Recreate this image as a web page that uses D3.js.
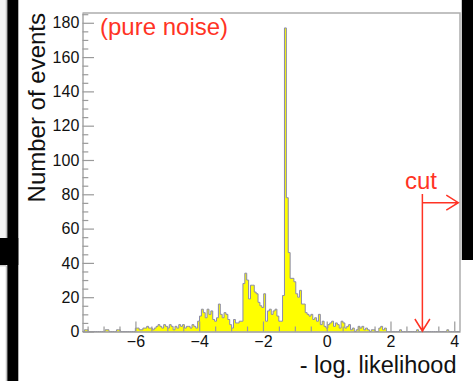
<!DOCTYPE html>
<html>
<head>
<meta charset="utf-8">
<script src="https://cdn.jsdelivr.net/npm/d3@7"></script>
<style>
  html, body { margin: 0; padding: 0; background: #fff; }
  svg { display: block; }
  text { font-family: "Liberation Sans", Arial, Helvetica, sans-serif; }
</style>
</head>
<body>
<svg id="chart" width="473" height="381"></svg>
<script>
// Histogram range and per-bin event counts of - log. likelihood
const histRange = [-7.66, 4.18];
const counts = [
  0, 1, 1, 0, 0, 0, 0, 0, 0, 0,
  0, 0, 1, 1, 0, 0, 0, 0, 1, 1,
  0, 0, 0, 0, 0, 0, 0, 0, 2, 2,
  1, 1, 2, 2, 3, 2, 2, 1, 2, 3,
  4, 3, 2, 4, 3, 2, 4, 3, 1, 3,
  2, 4, 3, 4, 2, 3, 3, 2, 4, 3,
  2, 6, 9, 13, 11, 8, 13, 10, 12, 7,
  6, 8, 16, 10, 8, 11, 10, 7, 4, 2,
  7, 5, 5, 6, 6, 28, 34, 30, 19, 27,
  27, 23, 22, 17, 15, 14, 22, 6, 12, 13,
  10, 12, 13, 9, 6, 6, 21, 177, 78, 46,
  31, 31, 29, 22, 20, 24, 16, 16, 11, 10,
  9, 10, 7, 8, 6, 10, 4, 6, 3, 2,
  4, 5, 6, 3, 5, 4, 2, 6, 5, 2,
  3, 4, 1, 2, 0, 1, 3, 2, 3, 1,
  2, 1, 0, 1, 1, 0, 0, 2, 3, 1,
  2, 0, 0, 0, 0, 0, 0, 0, 1, 0,
  0, 0, 0, 0, 0, 0, 0, 1, 0, 0,
  0, 0, 0, 0, 0, 0, 0, 0, 0, 0,
  0, 0, 0, 1, 0, 0, 0, 0, 0, 0
];
const xMajorTicks = [-6, -4, -2, 0, 2, 4];
const xMinorTicks = [-7.5, -7, -6.5, -5.5, -5, -4.5, -3.5, -3, -2.5, -1.5, -1, -0.5,
                     0.5, 1, 1.5, 2.5, 3, 3.5];
const yMajorTicks = [0, 20, 40, 60, 80, 100, 120, 140, 160, 180];
const yMinorTicks = [5, 10, 15, 25, 30, 35, 45, 50, 55, 65, 70, 75, 85, 90, 95,
                     105, 110, 115, 125, 130, 135, 145, 150, 155, 165, 170, 175, 185];
const yMax = 185.7;
const cutValue = 3;
const xTitle = "- log. likelihood";
const yTitle = "Number of events";
const noteText = "(pure noise)";
const cutText = "cut";

const svg = d3.select("#chart");
const frame = { left: 82.5, right: 460, top: 13, bottom: 331.5 };

// Screen decorations around the canvas
svg.append("rect").attr("x", 0).attr("y", 0).attr("width", 6.5).attr("height", 238)
  .attr("fill", "#f3f3f3");
svg.append("line").attr("x1", 6.3).attr("x2", 6.3).attr("y1", 0).attr("y2", 238)
  .attr("stroke", "#b5b5b5").attr("stroke-width", 1);
svg.append("rect").attr("x", 0).attr("y", 265).attr("width", 6.5).attr("height", 116)
  .attr("fill", "#fff");
svg.append("path").attr("d", "M0,265.8H6.3V381").attr("fill", "none")
  .attr("stroke", "#b5b5b5").attr("stroke-width", 1);
svg.append("rect").attr("x", 7.3).attr("y", 0).attr("width", 11).attr("height", 381).attr("fill", "#000");
svg.append("rect").attr("x", 0).attr("y", 238).attr("width", 18.3).attr("height", 27).attr("fill", "#000");
svg.append("rect").attr("x", 461.8).attr("y", 0).attr("width", 12).attr("height", 260).attr("fill", "#000");

const x = d3.scaleLinear().domain(histRange).range([frame.left, frame.right]);
const y = d3.scaleLinear().domain([0, yMax]).range([frame.bottom, frame.top]);

// Bin edges and step outline
const binW = (histRange[1] - histRange[0]) / counts.length;
const steps = counts.map((c, i) => [histRange[0] + i * binW, c]);
steps.push([histRange[1], counts[counts.length - 1]]);

const area = d3.area().curve(d3.curveStepAfter)
  .x(d => x(d[0])).y0(y(0)).y1(d => y(d[1]));
const line = d3.line().curve(d3.curveStepAfter)
  .x(d => x(d[0])).y(d => y(d[1]));

svg.append("path").datum(steps).attr("d", area).attr("fill", "#ffff00");
svg.append("path").datum(steps).attr("d", line).attr("fill", "none")
  .attr("stroke", "#8a8aaa").attr("stroke-width", 1);

// Frame (top and right)
svg.append("path")
  .attr("d", `M${frame.left},${frame.top}H${frame.right}V${frame.bottom}`)
  .attr("fill", "none").attr("stroke", "#adadad").attr("stroke-width", 1.5);

const axisColor = "#9a9a9a";

// X axis
const gx = svg.append("g").attr("transform", `translate(0,${frame.bottom})`);
gx.call(d3.axisBottom(x).tickValues(xMajorTicks).tickSize(-10).tickSizeOuter(0).tickPadding(4.4));
const gxm = svg.append("g").attr("transform", `translate(0,${frame.bottom})`);
gxm.call(d3.axisBottom(x).tickValues(xMinorTicks).tickSize(-5).tickSizeOuter(0).tickFormat(""));
gxm.select(".domain").remove();

// Y axis
const gy = svg.append("g").attr("transform", `translate(${frame.left},0)`);
gy.call(d3.axisLeft(y).tickValues(yMajorTicks).tickSize(-11.5).tickSizeOuter(0).tickPadding(3.2));
const gym = svg.append("g").attr("transform", `translate(${frame.left},0)`);
gym.call(d3.axisLeft(y).tickValues(yMinorTicks).tickSize(-5.8).tickSizeOuter(0).tickFormat(""));
gym.select(".domain").remove();

svg.selectAll(".domain").attr("stroke", axisColor).attr("stroke-width", 1.3);
svg.selectAll(".tick line").attr("stroke", axisColor).attr("stroke-width", 1.2);
svg.selectAll(".tick text")
  .attr("font-family", "Liberation Sans, Arial, sans-serif")
  .attr("font-size", 16).attr("fill", "#111");

// Axis titles
svg.append("text")
  .attr("x", 456.5).attr("y", 372.5).attr("text-anchor", "end")
  .attr("font-size", 23.5).attr("fill", "#111").text(xTitle);
svg.append("text")
  .attr("transform", "translate(45,13) rotate(-90)")
  .attr("text-anchor", "end")
  .attr("font-size", 24).attr("fill", "#111").text(yTitle);

// Annotation
const red = "#ff3324";
svg.append("text").attr("x", 100).attr("y", 34.5)
  .attr("font-size", 24).attr("fill", red).text(noteText);

const cx = x(cutValue);
const cutY = 202.7;
const head = 12, half = 7.5;
svg.append("text").attr("x", 405).attr("y", 189.3)
  .attr("font-size", 24).attr("fill", red).text(cutText);
svg.append("path")
  .attr("d", `M${cx},194V${frame.bottom - 0.5}` +
             `M${cx - half},${frame.bottom - 0.5 - head}L${cx},${frame.bottom - 0.5}L${cx + half},${frame.bottom - 0.5 - head}` +
             `M${cx},${cutY}H458.3` +
             `M${458.3 - head},${cutY - half}L458.3,${cutY}L${458.3 - head},${cutY + half}`)
  .attr("fill", "none").attr("stroke", red).attr("stroke-width", 1.5);
</script>
</body>
</html>
